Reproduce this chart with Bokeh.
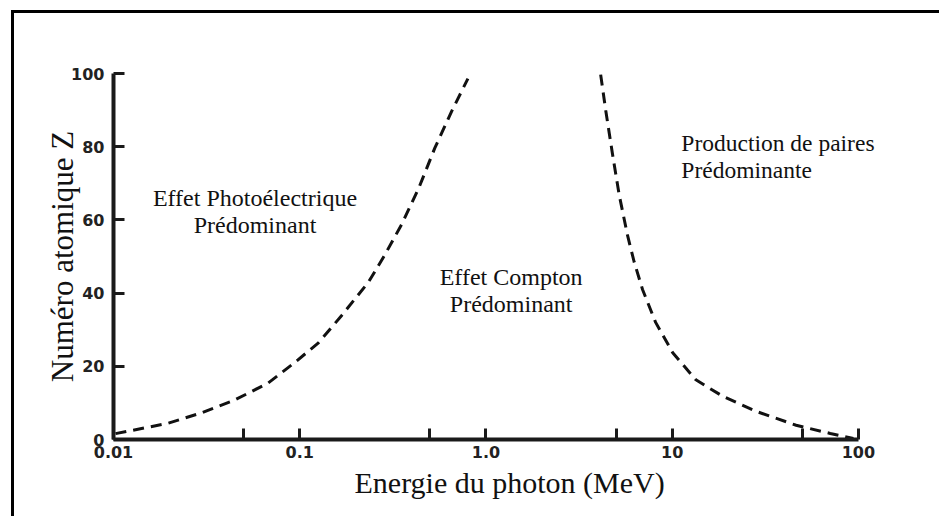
from bokeh.plotting import figure
from bokeh.models import Range1d, FixedTicker, Label, Title
from bokeh.embed import file_html
from bokeh.resources import INLINE

# Boundary photoélectrique / Compton (E in MeV, Z)
pe_energy = [0.01025, 0.0195, 0.0294, 0.0444, 0.0676, 0.0933, 0.126, 0.168,
             0.234, 0.286, 0.352, 0.435, 0.531, 0.656, 0.80]
pe_z = [1.6, 4.4, 7.2, 10.7, 15.4, 20.9, 26.4, 33.9, 43.0, 50.4, 58.7, 68.6,
        79.6, 89.8, 98.6]

# Boundary Compton / production de paires
pp_energy = [4.13, 4.40, 4.78, 5.19, 5.75, 6.25, 6.93, 8.15, 10.07, 13.4,
             18.7, 28.2, 46.3, 70.6, 94.0]
pp_z = [99.7, 89.8, 78.0, 66.9, 55.9, 48.5, 41.0, 32.0, 23.7, 16.3, 11.8,
        7.7, 3.9, 1.65, 0.3]

x_ticks = [0.01, 0.05, 0.1, 0.5, 1, 5, 10, 50, 100]
x_tick_labels = ["0.01", "", "0.1", "", "1.0", "", "10", "", "100"]
y_ticks = [0, 20, 40, 60, 80, 100]

x_title = "Energie du photon (MeV)"
y_title = "Numéro atomique Z"
region_lines = ["Effet Photoélectrique", "Prédominant",
                "Effet Compton", "Prédominant",
                "Production de paires", "Prédominante"]

# the axis itself stops at 100 MeV; the frame leaves room for the text
x_end = 10 ** (2 + 22 / 185.5)

p = figure(width=925, height=503, x_axis_type="log",
           x_range=Range1d(0.01, x_end), y_range=Range1d(0, 100),
           output_backend="svg", toolbar_location=None, tools="",
           min_border_left=99, min_border_right=62,
           min_border_top=60, min_border_bottom=80)
p.toolbar.logo = None
p.margin = (10, 0, 0, 11)
p.styles = {"border-left": "3px solid #000", "border-top": "3px solid #000",
            "box-sizing": "content-box", "overflow": "hidden"}

p.grid.visible = False
p.outline_line_color = None
p.background_fill_color = "white"
p.border_fill_color = "white"

for ax in (p.xaxis[0], p.yaxis[0]):
    ax.axis_line_width = 4
    ax.axis_line_color = "#1a1a1a"
    ax.major_tick_line_width = 3
    ax.major_tick_line_color = "#1a1a1a"
    ax.major_tick_in = 11
    ax.major_tick_out = 0
    ax.minor_tick_line_color = None
    ax.major_label_text_font = "DejaVu Sans"
    ax.major_label_text_font_style = "bold"
    ax.major_label_text_font_size = "16px"
    ax.major_label_text_color = "#222222"
    ax.axis_label_text_font = "Liberation Serif"
    ax.axis_label_text_font_style = "normal"
    ax.axis_label_text_color = "#111111"

p.xaxis.ticker = FixedTicker(ticks=x_ticks)
p.xaxis.bounds = (0.01, 100)
p.xaxis.major_label_overrides = {t: l for t, l in zip(x_ticks, x_tick_labels)}
p.xaxis.major_label_standoff = 6

p.yaxis.ticker = FixedTicker(ticks=y_ticks)
p.yaxis.major_label_standoff = 9
p.yaxis.axis_label = y_title
p.yaxis.axis_label_text_font_size = "31px"
p.yaxis.axis_label_standoff = -12

p.add_layout(Title(text=x_title, align="left", offset=241,
                   text_font="Liberation Serif", text_font_size="30px",
                   text_font_style="normal", text_color="#111111",
                   standoff=6), "below")

p.line(pe_energy, pe_z, line_color="#111111", line_width=3, line_dash="11 7")
p.line(pp_energy, pp_z, line_color="#111111", line_width=3, line_dash="11 7")

serif = "Liberation Serif"
label_x = [0.0575, 0.0575, 1.365, 1.365, 11.2, 11.2]
label_y = [66.0, 58.6, 44.3, 36.9, 81.0, 73.6]
label_align = ["center", "center", "center", "center", "left", "left"]
label_size = ["24px", "24px", "24px", "24px", "23.5px", "23.5px"]
for lx, ly, t, al, fs in zip(label_x, label_y, region_lines, label_align,
                             label_size):
    p.add_layout(Label(x=lx, y=ly, text=t, text_font=serif,
                       text_font_size=fs, text_align=al,
                       text_baseline="middle", text_color="#111111"))

open("out.html", "w").write(file_html(p, INLINE))
